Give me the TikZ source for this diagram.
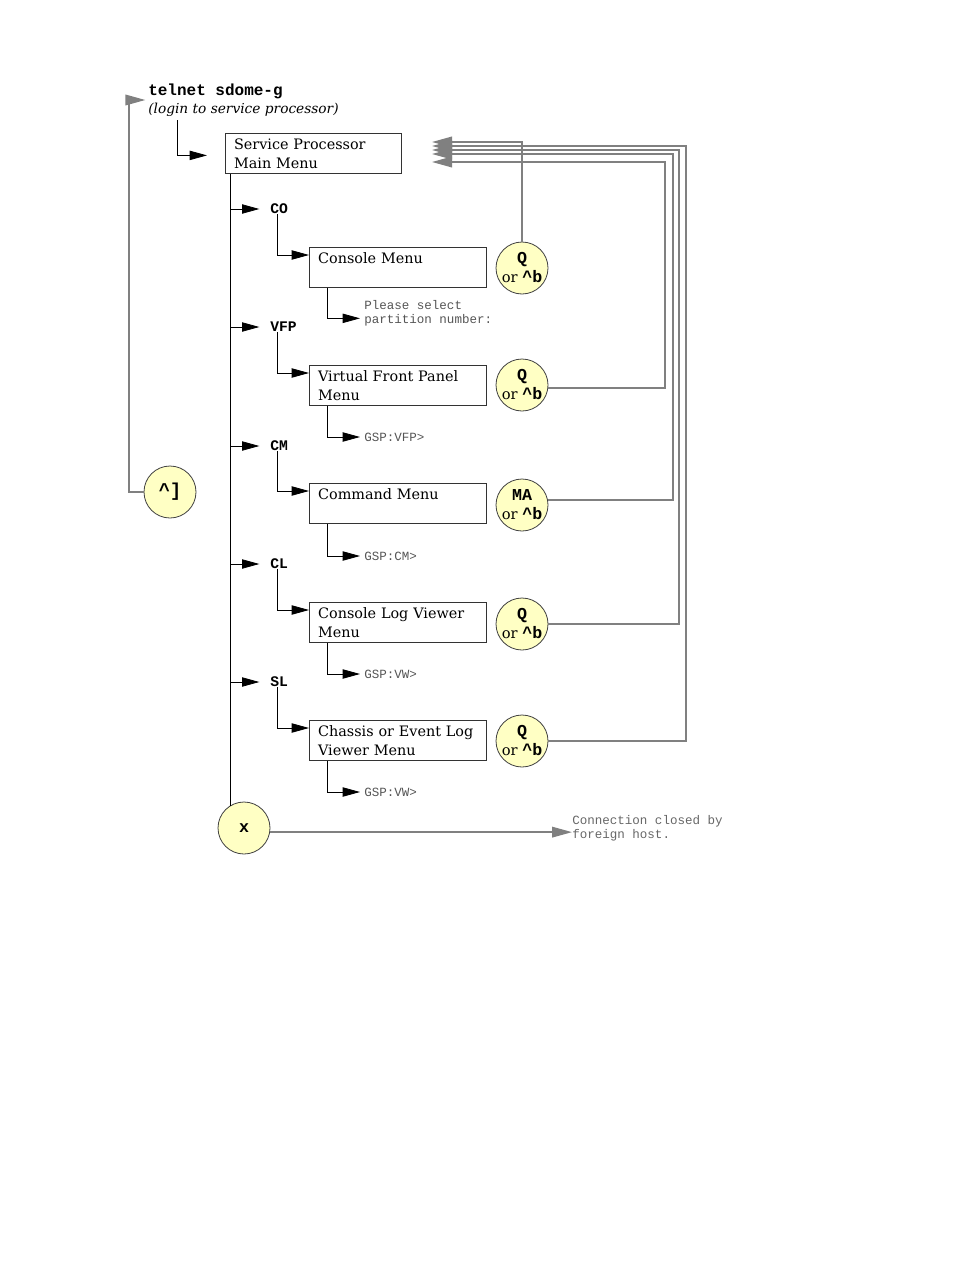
\documentclass[tikz,border=0pt]{standalone}
\usepackage{fontspec}
\setmainfont{DejaVu Serif}
\newfontfamily\cour{Liberation Mono}
\usepackage{tikz}
\usetikzlibrary{arrows.meta,positioning,calc}
\definecolor{keyfill}{HTML}{FFFFC4}
\definecolor{retgray}{HTML}{808080}
\definecolor{promptgray}{HTML}{555555}
\newcommand\keyq[1]{{\cour\bfseries\fontsize{12.5}{14.25}\selectfont #1}}

\begin{document}
\begin{tikzpicture}[x=0.75pt,y=-0.75pt,
  menubox/.style={draw=black!80,line width=0.6pt,anchor=north west,
              text width=120pt,inner xsep=6.5pt,inner ysep=0pt,
              minimum height=30pt,align=left,
              font=\fontsize{10.8}{14.25}\selectfont},
  keycirc/.style={circle,draw=black!75,line width=0.6pt,fill=keyfill,
              minimum size=39pt,inner sep=0pt,align=center,
              font=\fontsize{11}{14.25}\selectfont},
  cmdlbl/.style={anchor=west,inner sep=0pt,font=\cour\bfseries\fontsize{11}{13}\selectfont},
  prompt/.style={anchor=west,inner sep=0pt,align=left,text=promptgray,
              font=\cour\fontsize{9.4}{10.5}\selectfont},
  blkarr/.style={-{Triangle[length=13pt,width=7pt]},black,line width=0.6pt},
  grarr/.style={-{Triangle[length=15pt,width=8pt]},retgray,line width=1.1pt}
]
  \useasboundingbox (0,0) rectangle (954,1270);

  % login
  \node[cmdlbl,font=\cour\bfseries\fontsize{12}{14}\selectfont] (tel) at (148,91) {telnet sdome-g};
  \node[anchor=west,inner sep=0pt,font=\itshape\fontsize{10.3}{14}\selectfont] (login) at (148,110) {(login to service processor)};
  \node[menubox,text width=119pt] (sp) at (225,133) {Service Processor\\Main Menu};
  \coordinate (lgn) at (177,120);
  \draw[blkarr,shorten >=13.5pt] (lgn) |- ([yshift=-1.5pt]sp.west);

  % keys
  \node[keycirc] (ctl) at (170,492) {\cour\bfseries\fontsize{14}{14}\selectfont\textasciicircum]};
  \node[keycirc] (xq) at (244,828) {\keyq{x}};

  % sub menus
  \node[cmdlbl] (co)  at (270,209) {CO};
  \node[cmdlbl] (vfp) at (270,327) {VFP};
  \node[cmdlbl] (cm)  at (270,446) {CM};
  \node[cmdlbl] (cl)  at (270,564) {CL};
  \node[cmdlbl] (sl)  at (270,682) {SL};

  \node[menubox] (con)  at (309,247) {Console Menu\\\mbox{}};
  \node[menubox] (vfpm) at (309,365) {Virtual Front Panel\\Menu};
  \node[menubox] (cmd)  at (309,483) {Command Menu\\\mbox{}};
  \node[menubox] (clv)  at (309,602) {Console Log Viewer\\Menu};
  \node[menubox] (slv)  at (309,720) {Chassis or Event Log\\Viewer Menu};

  \node[prompt] (pcon)  at (364,313) {Please select\\partition number:};
  \node[prompt] (pvfp)  at (364,437) {GSP:VFP>};
  \node[prompt] (pcmd)  at (364,556) {GSP:CM>};
  \node[prompt] (pclv)  at (364,674) {GSP:VW>};
  \node[prompt] (pslv)  at (364,792) {GSP:VW>};

  \node[keycirc] (qcon) at (522,268) {\keyq{Q}\\or \keyq{\textasciicircum b}};
  \node[keycirc] (qvfp) at (522,385) {\keyq{Q}\\or \keyq{\textasciicircum b}};
  \node[keycirc] (qcmd) at (522,505) {\keyq{MA}\\or \keyq{\textasciicircum b}};
  \node[keycirc] (qclv) at (522,624) {\keyq{Q}\\or \keyq{\textasciicircum b}};
  \node[keycirc] (qslv) at (522,741) {\keyq{Q}\\or \keyq{\textasciicircum b}};

  \node[prompt,text=retgray!80!black] (closed) at (572,828) {Connection closed by\\foreign host.};

  % trunk
  \draw[line width=0.6pt] (sp.south -| xq.122.6) -- (xq.122.6);
  \foreach \lbl in {co,vfp,cm,cl,sl}
    \draw[blkarr,shorten >=8pt] (xq.122.6 |- \lbl.west) -- (\lbl.west);

  \draw[blkarr] ([xshift=5.25pt]co.south west)  |- ([yshift=-6pt]con.north west);
  \draw[blkarr] ([xshift=5.25pt]vfp.south west) |- ([yshift=-6pt]vfpm.north west);
  \draw[blkarr] ([xshift=5.25pt]cm.south west)  |- ([yshift=-6pt]cmd.north west);
  \draw[blkarr] ([xshift=5.25pt]cl.south west)  |- ([yshift=-6pt]clv.north west);
  \draw[blkarr] ([xshift=5.25pt]sl.south west)  |- ([yshift=-6pt]slv.north west);

  \draw[blkarr,shorten >=3pt] ([xshift=13.5pt]con.south west)  |- ([yshift=-4pt]pcon.west);
  \draw[blkarr,shorten >=3pt] ([xshift=13.5pt]vfpm.south west) |- (pvfp.west);
  \draw[blkarr,shorten >=3pt] ([xshift=13.5pt]cmd.south west)  |- (pcmd.west);
  \draw[blkarr,shorten >=3pt] ([xshift=13.5pt]clv.south west)  |- (pclv.west);
  \draw[blkarr,shorten >=3pt] ([xshift=13.5pt]slv.south west)  |- (pslv.west);

  % back to main menu
  \coordinate (t1) at (432,142);
  \coordinate (t2) at (432,162);  \coordinate (r2) at (665,162);
  \coordinate (t3) at (432,154);  \coordinate (r3) at (673,154);
  \coordinate (t4) at (432,150);  \coordinate (r4) at (679,150);
  \coordinate (t5) at (432,146);  \coordinate (r5) at (686,146);
  \draw[grarr] (qcon.north) |- (t1);
  \draw[grarr] (qvfp.-7) -| (r2) -- (t2);
  \draw[grarr] (qcmd.11) -| (r3) -- (t3);
  \draw[grarr] (qclv.east) -| (r4) -- (t4);
  \draw[grarr] (qslv.east) -| (r5) -- (t5);

  % escape and exit
  \coordinate (r0) at (129,100);
  \draw[grarr,shorten >=2pt] (ctl.west) -| (r0) -- (r0 -| tel.west);
  \draw[grarr] (xq.-9) -- (xq.-9 -| closed.west);
\end{tikzpicture}
\end{document}
